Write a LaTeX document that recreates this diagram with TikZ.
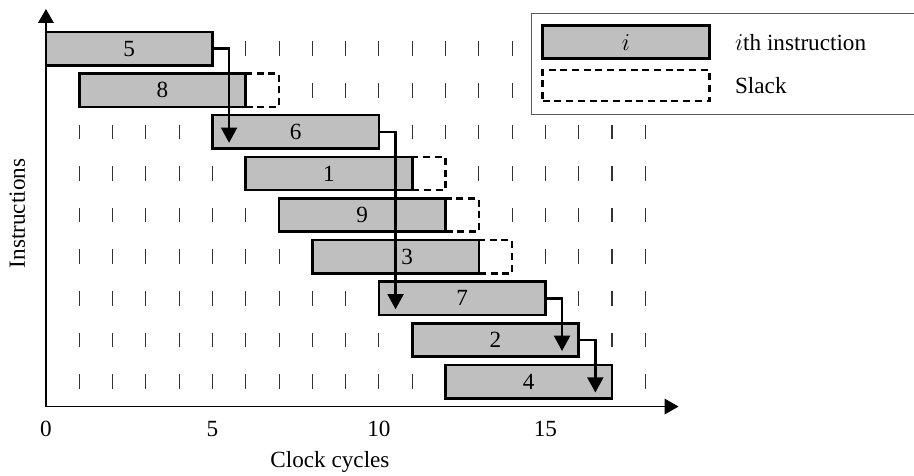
\documentclass[tikz,border=0pt]{standalone}
\usepackage{fontspec}
\setmainfont{Liberation Serif}
\usetikzlibrary{arrows.meta,calc}
\tikzset{
  ibox/.style={draw=black, line width=2.2pt, fill=black!25, minimum height=1cm, inner sep=0pt, outer sep=0pt, font=\fontsize{19.8}{23}\selectfont},
  slackbox/.style={draw=black, line width=2.2pt, dash pattern=on 6pt off 4pt, fill=white, minimum height=1cm, inner sep=0pt, outer sep=0pt},
  tickmark/.style={black!80, line width=0.9pt},
  axis/.style={line width=1.1pt, -{Triangle[length=0.42cm,width=0.47cm]}},
  seq/.style={line width=2pt, -{Triangle[length=0.46cm,width=0.48cm]}},
  lbl/.style={font=\fontsize{19.8}{23}\selectfont, inner sep=0pt}
}
\begin{document}
\begin{tikzpicture}
\useasboundingbox (-1.38,-2.08) rectangle (26.07,12.21);
% dashed grid ticks
\foreach \y/\a/\b in {10.75/6/14, 9.5/8/14, 8.25/1/4, 8.25/11/18, 7/1/5, 7/13/18, 5.75/1/6, 5.75/14/18, 4.5/1/7, 4.5/15/18, 3.25/1/9, 3.25/16/18, 2/1/10, 2/17/18, 0.75/1/11}
  \foreach \x in {\a,...,\b}
    \draw[tickmark] (\x,\y-0.22) -- (\x,\y+0.22);
\draw[tickmark] (18,0.53) -- (18,0.97);
% legend
\node[draw=black!65, line width=0.8pt, fill=white, minimum width=11.8cm, minimum height=3.03cm, inner sep=0pt, anchor=south west] (legend) at (14.56,8.76) {};
\node[ibox, minimum width=5cm] (legi) at (17.42,10.945) {$i$};
\node[slackbox, minimum width=5cm, minimum height=0.93cm] (legs) at (17.42,9.645) {};
\node[lbl, anchor=west] (legit) at (20.69,10.93) {$i$th instruction};
\node[lbl, anchor=west] (legst) at (20.69,9.64) {Slack};
% slack boxes
\node[slackbox, minimum width=1cm] (s8) at (6.5,9.5) {};
\node[slackbox, minimum width=1cm] (s1) at (11.5,7) {};
\node[slackbox, minimum width=1cm] (s9) at (12.5,5.75) {};
\node[slackbox, minimum width=1cm] (s3) at (13.5,4.5) {};
% instruction boxes
\node[ibox, minimum width=5cm] (b5) at (2.5,10.75) {5};
\node[ibox, minimum width=5cm] (b8) at (3.5,9.5) {8};
\node[ibox, minimum width=5cm] (b6) at (7.5,8.25) {6};
\node[ibox, minimum width=5cm] (b1) at (8.5,7) {1};
\node[ibox, minimum width=5cm] (b9) at (9.5,5.75) {9};
\node[ibox, minimum width=5cm, label={[lbl, xshift=0.35cm]center:3}] (b3) at (10.5,4.5) {};
\node[ibox, minimum width=5cm] (b7) at (12.5,3.25) {7};
\node[ibox, minimum width=5cm] (b2) at (13.5,2) {2};
\node[ibox, minimum width=5cm] (b4) at (14.5,0.75) {4};
% sequence arrows
\coordinate (k1) at ($(b5.east)+(0.5,0)$);
\coordinate (k2) at ($(b6.east)+(0.5,0)$);
\coordinate (k3) at ($(b7.east)+(0.5,0)$);
\coordinate (k4) at ($(b2.east)+(0.5,0)$);
\draw[seq] (b5.east) -- (k1) -- ($(k1 |- b6.south)+(0,0.17)$);
\draw[seq] (b6.east) -- (k2) -- ($(k2 |- b7.south)+(0,0.17)$);
\draw[seq] (b7.east) -- (k3) -- ($(k3 |- b2.south)+(0,0.17)$);
\draw[seq] (b2.east) -- (k4) -- ($(k4 |- b4.south)+(0,0.17)$);
% axes
\coordinate (o) at (0,0);
\coordinate (ytop) at (0,11.94);
\coordinate (xend) at (19,0);
\draw[axis] (o) -- (ytop);
\draw[axis] (o) -- (xend);
\foreach \v in {0,5,10,15}
  \node[lbl, anchor=base] (t\v) at (\v,-0.9) {\v};
\node[lbl, anchor=base] (xlab) at (8.53,-1.84) {Clock cycles};
\node[lbl, anchor=base, rotate=90] (ylab) at (-0.63,5.8) {Instructions};
\end{tikzpicture}
\end{document}
